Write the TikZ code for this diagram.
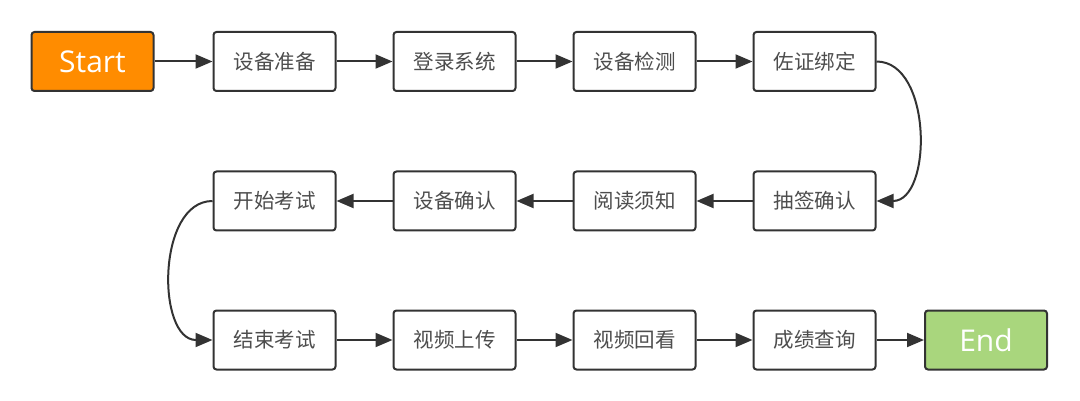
\documentclass[tikz,border=0pt]{standalone}
\usepackage{fontspec}
\setmainfont{Open Sans}
\newfontfamily\cjk{Noto Sans CJK SC}
\usetikzlibrary{arrows.meta}
\definecolor{startc}{HTML}{FF8C00}
\definecolor{endc}{HTML}{A9D67D}
\definecolor{linec}{HTML}{333333}
\definecolor{textc}{HTML}{4D4D4D}
\begin{document}
\begin{tikzpicture}[x=1pt,y=-1pt,
  box/.style={draw=linec, line width=2pt, rounded corners=3pt, minimum width=122pt, minimum height=59pt, inner sep=0pt, fill=white, text=textc, font=\cjk\fontsize{20.5}{20.5}\selectfont},
  term/.style={box, text=white, font=\fontsize{30}{30}\selectfont},
  conn/.style={draw=linec, line width=2pt, -{Triangle[length=17pt,width=14pt]}}
]
\useasboundingbox (0,0) rectangle (1080,401);
\node[term, fill=startc] (s) at (92.5,61.5) {Start};
\node[box] (a1) at (274.5,61.5) {设备准备};
\node[box] (a2) at (454.5,61.5) {登录系统};
\node[box] (a3) at (634.5,61.5) {设备检测};
\node[box] (a4) at (814.5,61.5) {佐证绑定};
\node[box] (b1) at (814.5,201) {抽签确认};
\node[box] (b2) at (634.5,201) {阅读须知};
\node[box] (b3) at (454.5,201) {设备确认};
\node[box] (b4) at (274.5,201) {开始考试};
\node[box] (c1) at (274.5,340) {结束考试};
\node[box] (c2) at (454.5,340) {视频上传};
\node[box] (c3) at (634.5,340) {视频回看};
\node[box] (c4) at (814.5,340) {成绩查询};
\node[term, fill=endc] (e) at (986,340) {End};
\draw[conn] (s) -- (a1);
\draw[conn] (a1) -- (a2);
\draw[conn] (a2) -- (a3);
\draw[conn] (a3) -- (a4);
\draw[conn] (a4.east) .. controls +(56,0) and +(56,0) .. (b1.east);
\draw[conn] (b1) -- (b2);
\draw[conn] (b2) -- (b3);
\draw[conn] (b3) -- (b4);
\draw[conn] (b4.west) .. controls +(-56,0) and +(-56,0) .. (c1.west);
\draw[conn] (c1) -- (c2);
\draw[conn] (c2) -- (c3);
\draw[conn] (c3) -- (c4);
\draw[conn] (c4) -- (e);
\end{tikzpicture}
\end{document}
